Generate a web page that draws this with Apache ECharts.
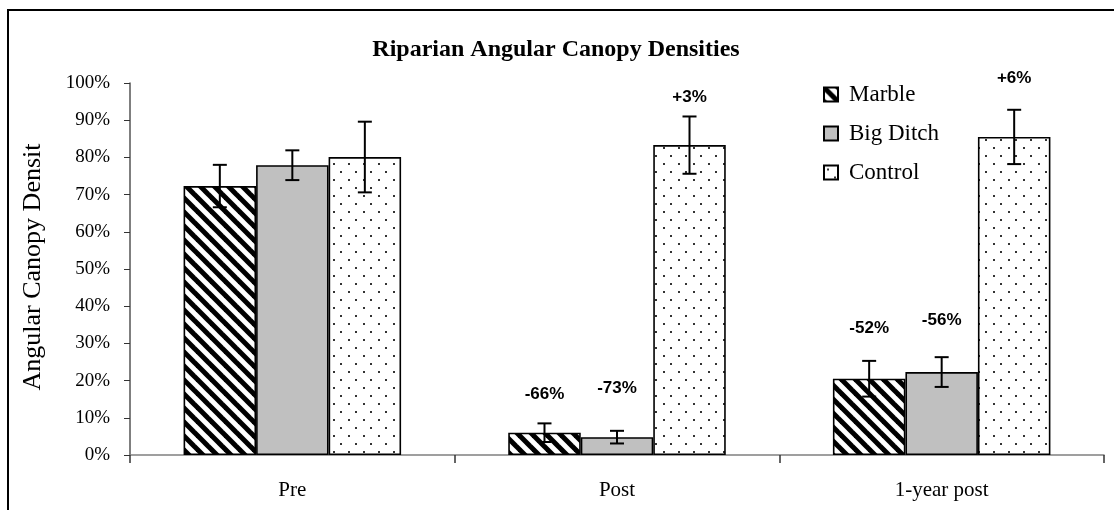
<!DOCTYPE html>
<html>
<head>
<meta charset="utf-8">
<script src="https://cdn.jsdelivr.net/npm/echarts@6/dist/echarts.min.js"></script>
<style>
  html, body { margin: 0; padding: 0; background: #fff; }
  #chart { width: 1114px; height: 510px; }
</style>
</head>
<body>
<div id="chart"></div>
<script>
// data (percent)
const categories = ['Pre', 'Post', '1-year post'];
const seriesNames = ['Marble', 'Big Ditch', 'Control'];
const marble = [72.3, 6.0, 20.5];
const bigDitch = [77.9, 4.8, 22.3];
const control = [80.1, 83.3, 85.5];
const marbleErr = [5.7, 2.5, 4.8];
const bigDitchErr = [4.0, 1.7, 4.0];
const controlErr = [9.5, 7.7, 7.3];
const marbleChange = ['', '-66%', '-52%'];
const bigDitchChange = ['', '-73%', '-56%'];
const controlChange = ['', '+3%', '+6%'];

const serif = '"Liberation Serif", "Times New Roman", serif';
const sans = '"Liberation Sans", Arial, sans-serif';

// hatch fill for Marble
const stripes = (() => {
  const c = document.createElement('canvas');
  const s = 14;
  c.width = s; c.height = s;
  const g = c.getContext('2d');
  g.fillStyle = '#fff';
  g.fillRect(0, 0, s, s);
  g.strokeStyle = '#000';
  g.lineWidth = 5;
  for (let k = -1; k <= 1; k++) {
    g.beginPath();
    g.moveTo(k * s - 2, -2);
    g.lineTo(k * s + s + 2, s + 2);
    g.stroke();
  }
  return c;
})();

// dotted fill for Control
const dots = (() => {
  const c = document.createElement('canvas');
  c.width = 15; c.height = 16;
  const g = c.getContext('2d');
  g.fillStyle = '#fff';
  g.fillRect(0, 0, 15, 16);
  g.fillStyle = '#333';
  g.fillRect(3, 3, 2, 2);
  g.fillRect(10, 11, 2, 2);
  return c;
})();

const fills = [
  { image: stripes, repeat: 'repeat' },
  '#c0c0c0',
  { image: dots, repeat: 'repeat' }
];
const means = [marble, bigDitch, control];
const errs = [marbleErr, bigDitchErr, controlErr];
const changes = [marbleChange, bigDitchChange, controlChange];
// how far each change label sits above its error bar (px)
const labelLift = [[0, 29, 33], [0, 43, 37], [0, 19, 31]];

const catGap = 0.33;

const barSeries = seriesNames.map((name, i) => ({
  name: name,
  type: 'bar',
  data: means[i],
  barGap: '0%',
  barCategoryGap: catGap * 100 + '%',
  itemStyle: { color: fills[i], borderColor: '#000', borderWidth: 1.6 },
  emphasis: { disabled: true },
  z: 2
}));

const errorSeries = seriesNames.map((name, i) => ({
  name: name + ' error',
  type: 'custom',
  z: 5,
  silent: true,
  data: categories.map((c, j) => [j, means[i][j], errs[i][j]]),
  renderItem: (params, api) => {
    const j = api.value(0);
    const m = api.value(1);
    const e = api.value(2);
    const band = api.size([1, 0])[0];
    const bw = band * (1 - catGap) / 3;
    const top = api.coord([j, m + e]);
    const bot = api.coord([j, m - e]);
    const x = top[0] + (i - 1) * bw;
    const cap = 7;
    const style = { stroke: '#000', lineWidth: 2 };
    const children = [
      { type: 'line', shape: { x1: x, y1: top[1], x2: x, y2: bot[1] }, style },
      { type: 'line', shape: { x1: x - cap, y1: top[1], x2: x + cap, y2: top[1] }, style },
      { type: 'line', shape: { x1: x - cap, y1: bot[1], x2: x + cap, y2: bot[1] }, style }
    ];
    const txt = changes[i][j];
    if (txt) {
      children.push({
        type: 'text',
        style: {
          text: txt, x: x, y: top[1] - labelLift[i][j],
          align: 'center', verticalAlign: 'middle',
          font: 'bold 17px ' + sans, fill: '#000'
        }
      });
    }
    return { type: 'group', children };
  }
}));

const chart = echarts.init(document.getElementById('chart'));
chart.setOption({
  animation: false,
  backgroundColor: '#fff',
  title: {
    text: 'Riparian Angular Canopy Densities',
    left: 551,
    top: 33,
    textAlign: 'center',
    textStyle: { fontFamily: serif, fontWeight: 'bold', fontSize: 24, color: '#000' }
  },
  legend: {
    data: seriesNames,
    orient: 'vertical',
    left: 818,
    top: 78,
    icon: 'rect',
    itemWidth: 14,
    itemHeight: 14,
    itemGap: 16,
    textStyle: { fontFamily: serif, fontSize: 23, color: '#000', padding: [0, 0, 0, 6] }
  },
  grid: { left: 130, right: 10, top: 83, bottom: 55 },
  xAxis: {
    type: 'category',
    data: categories,
    axisLine: { lineStyle: { color: '#808080', width: 1.5 } },
    axisTick: { show: true, length: 8, lineStyle: { color: '#333', width: 1.5 } },
    axisLabel: { fontFamily: serif, fontSize: 21, color: '#000', margin: 25 }
  },
  yAxis: {
    type: 'value',
    min: 0,
    max: 100,
    interval: 10,
    splitLine: { show: false },
    axisLine: { show: true, lineStyle: { color: '#555', width: 1.5 } },
    axisTick: { show: true, length: 6, lineStyle: { color: '#333' } },
    axisLabel: { formatter: '{value}%', fontFamily: serif, fontSize: 19, color: '#000', margin: 20 }
  },
  graphic: [
    {
      type: 'rect',
      shape: { x: 8, y: 10, width: 1300, height: 700 },
      style: { fill: 'none', stroke: '#000', lineWidth: 2 },
      silent: true
    },
    {
      type: 'text',
      x: 33,
      y: 267,
      rotation: Math.PI / 2,
      style: {
        text: 'Angular Canopy Densit',
        font: '26px ' + serif,
        fill: '#000',
        align: 'center',
        verticalAlign: 'middle'
      },
      silent: true
    }
  ],
  series: barSeries.concat(errorSeries)
});
</script>
</body>
</html>
